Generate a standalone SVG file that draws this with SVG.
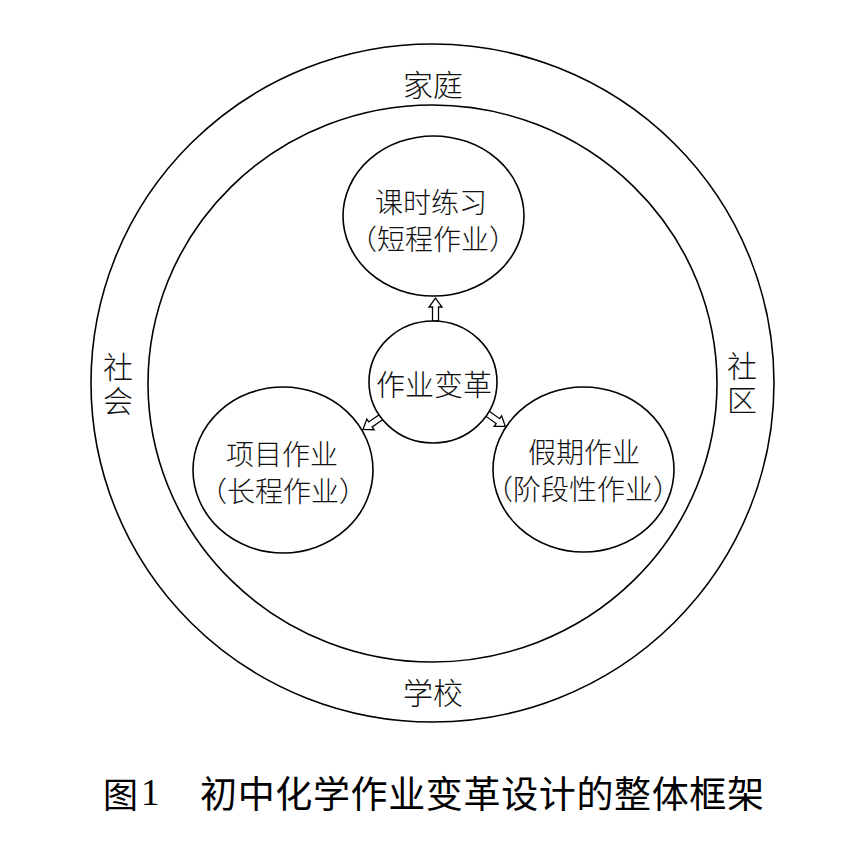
<svg xmlns="http://www.w3.org/2000/svg" width="858" height="857" viewBox="0 0 858 857">
<style>
.ring{fill:none;stroke:#000;stroke-width:1.6}
.node{fill:#fff;stroke:#000;stroke-width:1.6}
.t{font-family:"Noto Sans CJK SC","Noto Sans CJK TC",sans-serif;font-weight:300;fill:#111;text-anchor:middle;dominant-baseline:central}
.n{font-size:28px}
.lab{font-size:30px}
.vert{writing-mode:vertical-rl;letter-spacing:4px}
.cap{font-family:"Noto Sans CJK SC",sans-serif;font-weight:400;fill:#000;font-size:37px;dominant-baseline:central}
.arr{fill:#fff;stroke:#000;stroke-width:1.3;stroke-linejoin:miter}
</style>
<defs>
<path id="harrow" class="arr" d="M0,-3 H14 V-6.5 L23,0 L14,6.5 V3 H0 Z"/>
</defs>
<rect width="858" height="857" fill="#fff"/>
<g id="rings">
<ellipse class="ring" cx="432.5" cy="383" rx="341.5" ry="339"/>
<ellipse class="ring" cx="432.5" cy="383.5" rx="284.5" ry="278.5"/>
</g>
<g id="ring-labels">
<text class="t lab" x="433" y="83">家庭</text>
<text class="t lab" x="433" y="691">学校</text>
<text class="t lab vert" x="118" y="386">社会</text>
<text class="t lab vert" x="742" y="385">社区</text>
</g>
<g id="connectors">
<use href="#harrow" transform="translate(435.5,321) rotate(-90)"/>
<use href="#harrow" transform="translate(382,416.5) rotate(145.6)"/>
<use href="#harrow" transform="translate(486.5,413) rotate(35.4)"/>
</g>
<g id="node-center">
<ellipse class="node" cx="433" cy="382" rx="64" ry="61"/>
<text class="t" style="font-size:29px" x="434" y="383">作业变革</text>
</g>
<g id="node-top">
<ellipse class="node" cx="433.5" cy="216" rx="90.5" ry="80"/>
<text class="t n" x="431" y="201">课时练习</text>
<text class="t n" x="433" y="238">（短程作业）</text>
</g>
<g id="node-left">
<ellipse class="node" cx="283" cy="470" rx="90" ry="83"/>
<text class="t n" x="282" y="453">项目作业</text>
<text class="t n" x="283" y="490">（长程作业）</text>
</g>
<g id="node-right">
<ellipse class="node" cx="583.5" cy="469.5" rx="90.5" ry="82.5"/>
<text class="t n" x="584" y="451">假期作业</text>
<text class="t n" x="583" y="488">（阶段性作业）</text>
</g>
<g id="caption">
<text class="cap" x="103" y="792" style="font-size:35px">图</text>
<text x="141" y="805" style="font-family:'Liberation Serif',serif;font-size:37px;fill:#000">1</text>
<text class="cap" x="200" y="792" textLength="564" lengthAdjust="spacing">初中化学作业变革设计的整体框架</text>
</g>
</svg>
